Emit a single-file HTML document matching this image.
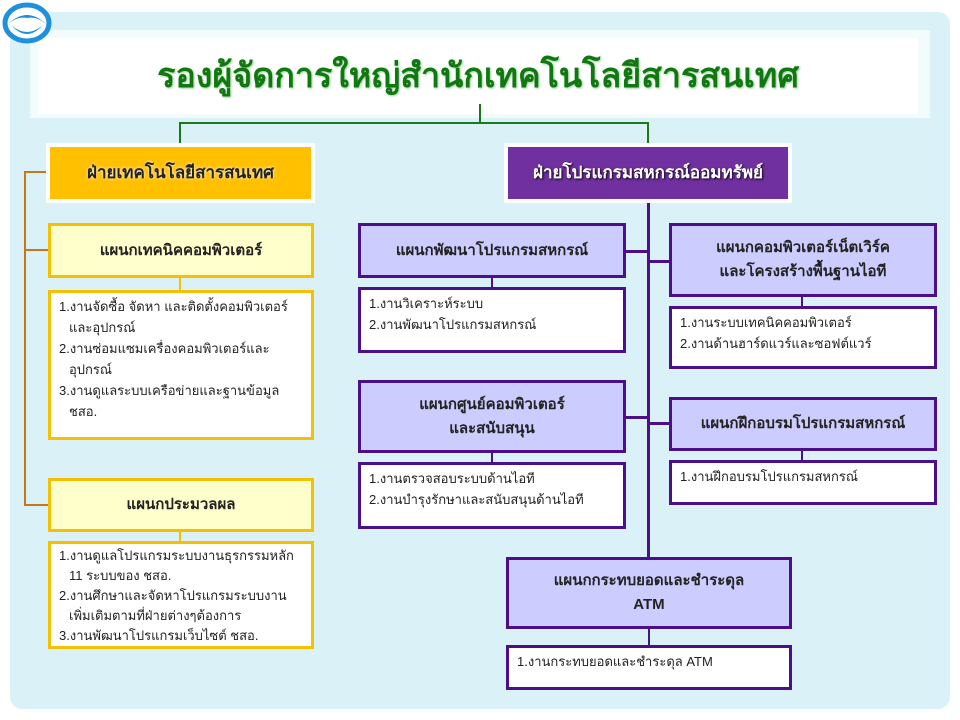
<!DOCTYPE html>
<html><head><meta charset="utf-8"><style>
body{margin:0;width:960px;height:720px;background:#fff;position:relative;overflow:hidden;font-family:"Liberation Sans","DejaVu Sans",sans-serif}
.a{position:absolute;box-sizing:border-box}
.ln{position:absolute}
.hd{display:flex;align-items:center;justify-content:center;text-align:center;font-weight:bold;font-size:15px;line-height:24px}
.y{background:#ffffcc;border:3px solid #f5c000;color:#222}
.yl{background:#fff;border:3px solid #f5c000}
.p{background:#ccccff;border:3px solid #4b0f8a;color:#222}
.pl{background:#fff;border:3px solid #4b0f8a}
.l{font-size:13px;line-height:21px;color:#222;padding:3px 8px}
.l div.i{padding-left:10px}
</style></head><body>
<div class="a" style="left:10px;top:12px;width:940px;height:697px;background:#daf2f7;border-radius:12px"></div>
<div class="a" style="left:30px;top:30px;width:900px;height:88px;background:#f4fbfd"></div>
<div class="a hd" style="left:38px;top:38px;width:880px;height:76px;background:#fff;color:#117711;font-size:34px;text-shadow:1px 1px 2px #9c9">รองผู้จัดการใหญ่สำนักเทคโนโลยีสารสนเทศ</div>
<div class="ln" style="left:479px;top:104px;width:2px;height:20px;background:#1a7a1a"></div>
<div class="ln" style="left:179px;top:122px;width:470px;height:2px;background:#1a7a1a"></div>
<div class="ln" style="left:179px;top:122px;width:2px;height:24px;background:#1a7a1a"></div>
<div class="ln" style="left:647px;top:122px;width:2px;height:24px;background:#1a7a1a"></div>
<div class="ln" style="left:24px;top:171px;width:2px;height:335px;background:#c8761e"></div>
<div class="ln" style="left:24px;top:171px;width:24px;height:2px;background:#c8761e"></div>
<div class="ln" style="left:24px;top:249px;width:24px;height:2px;background:#c8761e"></div>
<div class="ln" style="left:24px;top:504px;width:24px;height:2px;background:#c8761e"></div>
<div class="ln" style="left:179px;top:277px;width:2px;height:14px;background:#f5c000"></div>
<div class="ln" style="left:179px;top:531px;width:2px;height:11px;background:#f5c000"></div>
<div class="ln" style="left:647px;top:200px;width:3px;height:360px;background:#4b0f8a"></div>
<div class="ln" style="left:624px;top:250px;width:24px;height:3px;background:#4b0f8a"></div>
<div class="ln" style="left:648px;top:260px;width:22px;height:3px;background:#4b0f8a"></div>
<div class="ln" style="left:624px;top:416px;width:24px;height:3px;background:#4b0f8a"></div>
<div class="ln" style="left:648px;top:422px;width:22px;height:3px;background:#4b0f8a"></div>
<div class="ln" style="left:491px;top:276px;width:2px;height:13px;background:#4b0f8a"></div>
<div class="ln" style="left:491px;top:451px;width:2px;height:12px;background:#4b0f8a"></div>
<div class="ln" style="left:801px;top:295px;width:2px;height:13px;background:#4b0f8a"></div>
<div class="ln" style="left:801px;top:449px;width:2px;height:13px;background:#4b0f8a"></div>
<div class="ln" style="left:648px;top:627px;width:2px;height:20px;background:#4b0f8a"></div>
<div class="a hd" style="left:46px;top:143px;width:269px;height:60px;background:#fff;padding:4px"><div class="hd" style="width:100%;height:100%;background:#ffc000;color:#222;font-size:17px;text-shadow:0 0 3px #fff">ฝ่ายเทคโนโลยีสารสนเทศ</div></div>
<div class="a hd" style="left:504px;top:143px;width:288px;height:60px;background:#fff;padding:4px"><div class="hd" style="width:100%;height:100%;background:#7030a0;color:#fff;font-size:17px;text-shadow:1px 1px 2px #000">ฝ่ายโปรแกรมสหกรณ์ออมทรัพย์</div></div>
<div class="a hd y" style="left:48px;top:223px;width:266px;height:55px">แผนกเทคนิคคอมพิวเตอร์</div>
<div class="a yl l" style="left:48px;top:290px;width:266px;height:150px">1.งานจัดซื้อ จัดหา และติดตั้งคอมพิวเตอร์<div class="i">และอุปกรณ์</div>2.งานซ่อมแซมเครื่องคอมพิวเตอร์และ<div class="i">อุปกรณ์</div>3.งานดูแลระบบเครือข่ายและฐานข้อมูล<div class="i">ชสอ.</div></div>
<div class="a hd y" style="left:48px;top:478px;width:266px;height:54px">แผนกประมวลผล</div>
<div class="a yl l" style="left:48px;top:541px;width:266px;height:108px;line-height:20px;padding-top:2px">1.งานดูแลโปรแกรมระบบงานธุรกรรมหลัก<div class="i">11 ระบบของ ชสอ.</div>2.งานศึกษาและจัดหาโปรแกรมระบบงาน<div class="i">เพิ่มเติมตามที่ฝ่ายต่างๆต้องการ</div>3.งานพัฒนาโปรแกรมเว็บไซต์ ชสอ.</div>
<div class="a hd p" style="left:358px;top:223px;width:268px;height:55px">แผนกพัฒนาโปรแกรมสหกรณ์</div>
<div class="a pl l" style="left:358px;top:287px;width:268px;height:66px">1.งานวิเคราะห์ระบบ<br>2.งานพัฒนาโปรแกรมสหกรณ์</div>
<div class="a hd p" style="left:358px;top:380px;width:268px;height:73px">แผนกศูนย์คอมพิวเตอร์<br>และสนับสนุน</div>
<div class="a pl l" style="left:358px;top:462px;width:268px;height:67px">1.งานตรวจสอบระบบด้านไอที<br>2.งานบำรุงรักษาและสนับสนุนด้านไอที</div>
<div class="a hd p" style="left:506px;top:557px;width:286px;height:72px">แผนกกระทบยอดและชำระดุล<br>ATM</div>
<div class="a pl l" style="left:506px;top:645px;width:286px;height:45px">1.งานกระทบยอดและชำระดุล ATM</div>
<div class="a hd p" style="left:669px;top:223px;width:268px;height:74px">แผนกคอมพิวเตอร์เน็ตเวิร์ค<br>และโครงสร้างพื้นฐานไอที</div>
<div class="a pl l" style="left:669px;top:306px;width:268px;height:63px">1.งานระบบเทคนิคคอมพิวเตอร์<br>2.งานด้านฮาร์ดแวร์และซอฟต์แวร์</div>
<div class="a hd p" style="left:669px;top:397px;width:268px;height:54px">แผนกฝึกอบรมโปรแกรมสหกรณ์</div>
<div class="a pl l" style="left:669px;top:460px;width:268px;height:45px">1.งานฝึกอบรมโปรแกรมสหกรณ์</div>
<svg class="a" style="left:2px;top:2px" width="50" height="42" viewBox="0 0 50 42">
<ellipse cx="25" cy="21" rx="22" ry="18" fill="#fff" stroke="#1e90e0" stroke-width="5"/>
<path d="M6 22 Q25 4 44 22 Q35 14 25 16 Q15 14 6 22Z" fill="#1e90e0"/>
<path d="M10 24 Q25 40 40 24 Q32 30 25 30 Q18 30 10 24Z" fill="#1e90e0"/>
</svg>
</body></html>
